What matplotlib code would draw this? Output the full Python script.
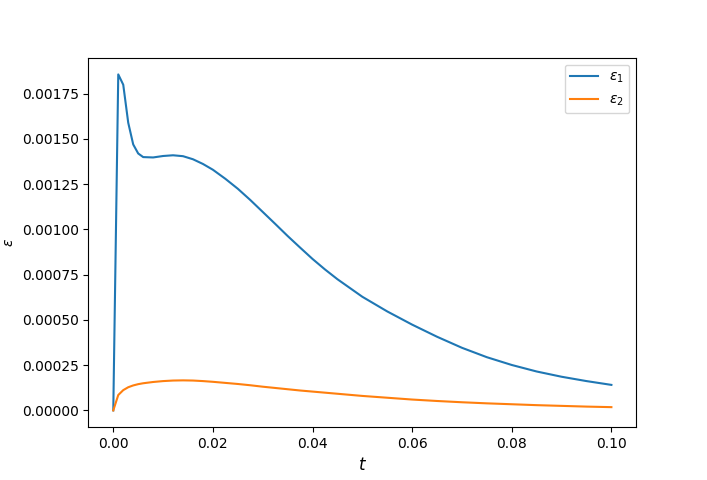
import matplotlib
matplotlib.use("Agg")
import matplotlib.pyplot as plt

# time samples
t = [0.000, 0.001, 0.002, 0.003, 0.004, 0.005, 0.006, 0.008, 0.010, 0.012,
     0.014, 0.016, 0.018, 0.020, 0.0225, 0.025, 0.0275, 0.030, 0.0325, 0.035,
     0.0375, 0.040, 0.0425, 0.045, 0.050, 0.055, 0.060, 0.065, 0.070, 0.075,
     0.080, 0.085, 0.090, 0.095, 0.100]

eps1 = [0.0, 0.001857, 0.00180, 0.00159, 0.00147, 0.00142, 0.001400, 0.001398,
        0.001406, 0.001410, 0.001405, 0.001388, 0.001362, 0.001330, 0.001280,
        0.001225, 0.001163, 0.001097, 0.001031, 0.000964, 0.000900, 0.000837,
        0.000779, 0.000725, 0.000628, 0.000547, 0.000474, 0.000407, 0.000346,
        0.000294, 0.000251, 0.000215, 0.000186, 0.000162, 0.000141]

eps2 = [0.0, 0.000085, 0.000112, 0.000128, 0.000138, 0.000145, 0.000150,
        0.000157, 0.000162, 0.000165, 0.000166, 0.000165, 0.000162, 0.000158,
        0.000152, 0.000146, 0.000139, 0.000131, 0.000124, 0.000117, 0.000110,
        0.000104, 0.000098, 0.000092, 0.000080, 0.000070, 0.000060, 0.000052,
        0.000045, 0.000039, 0.000034, 0.000029, 0.000025, 0.000021, 0.000018]

fig, ax = plt.subplots(figsize=(7.07, 4.8), dpi=100)
ax.plot(t, eps1, label=r"$\epsilon_1$")
ax.plot(t, eps2, label=r"$\epsilon_2$")
ax.set_xlabel(r"$t$", fontsize=12)
ax.set_ylabel(r"$\epsilon$")
ax.legend(loc="upper right")

fig.savefig("out.png", dpi=100)
